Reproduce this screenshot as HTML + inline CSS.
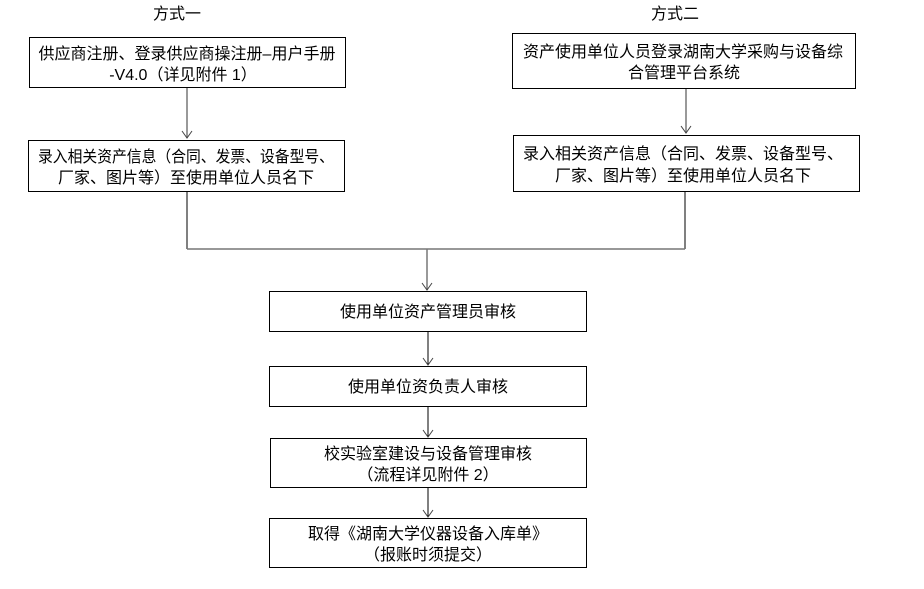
<!DOCTYPE html>
<html><head><meta charset="utf-8"><style>
html,body{margin:0;padding:0;background:#fff;}
svg{display:block;}
text{font-family:"Liberation Sans","Noto Sans CJK SC","WenQuanYi Zen Hei",sans-serif;font-size:16px;fill:#000;}
</style></head><body>
<svg width="924" height="589" viewBox="0 0 924 589" xmlns="http://www.w3.org/2000/svg">
<g fill="none" stroke="#000" stroke-width="1">
<rect x="29.5" y="37.5" width="316" height="50"/>
<rect x="28.5" y="140.5" width="316" height="51"/>
<rect x="512.5" y="33.5" width="343" height="55"/>
<rect x="513.5" y="135.5" width="346" height="56"/>
<rect x="269.5" y="291.5" width="317" height="40"/>
<rect x="269.5" y="366.5" width="317" height="40"/>
<rect x="270.5" y="438.5" width="316" height="49"/>
<rect x="269.5" y="518.5" width="317" height="49"/>
</g>
<g fill="none" stroke="#777" stroke-width="1.5">
<line x1="187" y1="88" x2="187" y2="138"/>
<line x1="686" y1="89" x2="686" y2="133"/>
<line x1="187" y1="192" x2="187" y2="249" stroke="#000" stroke-width="1"/>
<line x1="685" y1="192" x2="685" y2="249" stroke="#000" stroke-width="1"/>
<line x1="187" y1="249" x2="685" y2="249"/>
<line x1="427" y1="249" x2="427" y2="290"/>
</g>
<g fill="none" stroke="#000" stroke-width="1">
<line x1="428" y1="332" x2="428" y2="365"/>
<line x1="428" y1="407" x2="428" y2="437"/>
<line x1="428" y1="488" x2="428" y2="517"/>
</g>
<g fill="none" stroke="#444" stroke-width="1">
<polyline points="182,131 187,138 192,131"/>
<polyline points="681,126 686,133 691,126"/>
<polyline points="422,283 427,290 432,283"/>
<polyline points="423,358 428,365 433,358"/>
<polyline points="423,430 428,437 433,430"/>
<polyline points="423,510 428,517 433,510"/>
</g>
<text x="177" y="19" text-anchor="middle">方式一</text>
<text x="675" y="19" text-anchor="middle">方式二</text>
<text x="187" y="59" text-anchor="middle">供应商注册、登录供应商操注册–用户手册</text>
<text x="183" y="80" text-anchor="middle">-V4.0（详见附件 1）</text>
<text x="38" y="162" textLength="296" lengthAdjust="spacingAndGlyphs">录入相关资产信息（合同、发票、设备型号、</text>
<text x="186" y="183" text-anchor="middle">厂家、图片等）至使用单位人员名下</text>
<text x="683" y="57" text-anchor="middle">资产使用单位人员登录湖南大学采购与设备综</text>
<text x="684" y="78" text-anchor="middle">合管理平台系统</text>
<text x="683" y="159" text-anchor="middle">录入相关资产信息（合同、发票、设备型号、</text>
<text x="683" y="181" text-anchor="middle">厂家、图片等）至使用单位人员名下</text>
<text x="428" y="317" text-anchor="middle">使用单位资产管理员审核</text>
<text x="428" y="392" text-anchor="middle">使用单位资负责人审核</text>
<text x="428" y="459" text-anchor="middle">校实验室建设与设备管理审核</text>
<text x="428" y="480" text-anchor="middle">（流程详见附件 2）</text>
<text x="428" y="539" text-anchor="middle">取得《湖南大学仪器设备入库单》</text>
<text x="428" y="560" text-anchor="middle">（报账时须提交）</text>
</svg>
</body></html>
